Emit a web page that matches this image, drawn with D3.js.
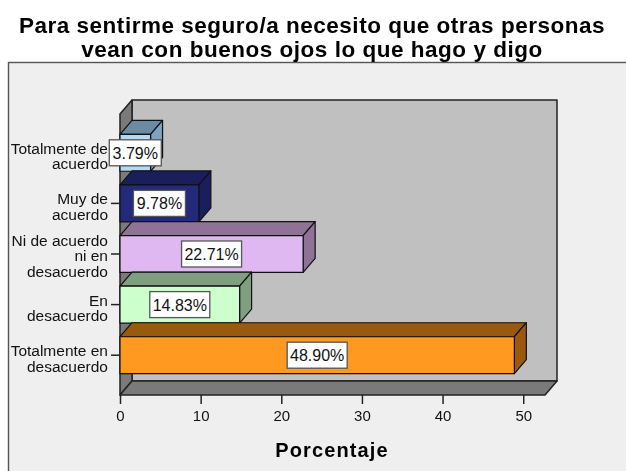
<!DOCTYPE html>
<html><head><meta charset="utf-8">
<script src="https://cdn.jsdelivr.net/npm/d3@7"></script>
<style>html,body{margin:0;padding:0;background:#fff;overflow:hidden}svg{display:block;filter:blur(0.35px)}text{font-family:"Liberation Sans",Arial,sans-serif;fill:#111}</style>
</head><body><svg id="c" width="626" height="471"></svg>
<script>
const categories = ["Totalmente de acuerdo","Muy de acuerdo","Ni de acuerdo ni en desacuerdo","En desacuerdo","Totalmente en desacuerdo"];
const categoryLines = [["Totalmente de","acuerdo"],["Muy de","acuerdo"],["Ni de acuerdo","ni en","desacuerdo"],["En","desacuerdo"],["Totalmente en","desacuerdo"]];
const values = [3.79,9.78,22.71,14.83,48.90];
const frontColors = ["#b3d9f5","#232a7c","#dfb8f2","#ccffcc","#ff991f"];
const topColors = ["#6b8aa3","#1a1f5c","#8f7296","#7f9f7f","#99590f"];
const sideColors = ["#7da3bf","#1a1f5c","#8f7296","#7f9f7f","#99590f"];
const xTicks = [0,10,20,30,40,50];
const titleLines = ["Para sentirme seguro/a necesito que otras personas","vean con buenos ojos lo que hago y digo"];
const xTitle = "Porcentaje";

const svg = d3.select("#c");
const dx = 12, dy = 14;
const x = d3.scaleLinear().domain([0,52.7]).range([120,545]);
const y = d3.scaleBand().domain(categories).range([127.5,380.5]).paddingInner(.27).paddingOuter(.135);
const L=120,R=545,T=114,B=395;
const ink="#222";

svg.append("rect").attr("x",8.5).attr("y",62.5).attr("width",640).attr("height",440).attr("fill","#efefef").attr("stroke","#555").attr("stroke-width",1.4);

svg.append("g").selectAll("text").data(titleLines).join("text")
 .attr("x",312).attr("y",(d,i)=>33+i*24).attr("text-anchor","middle")
 .attr("font-size",22.5).attr("letter-spacing",0.52).attr("font-weight","bold").style("fill","#000").text(d=>d);

const pts=a=>a.map(p=>p.join(",")).join(" ");
const walls=svg.append("g").attr("stroke",ink).attr("stroke-width",1.5).attr("stroke-linejoin","round");
walls.append("rect").attr("x",L+dx).attr("y",T-dy).attr("width",R-L).attr("height",B-T).attr("fill","#c0c0c0");
walls.append("polygon").attr("points",pts([[L,T],[L+dx,T-dy],[L+dx,B-dy],[L,B]])).attr("fill","#7a7a7a");
walls.append("polygon").attr("points",pts([[L,B],[L+dx,B-dy],[R+dx,B-dy],[R,B]])).attr("fill","#7a7a7a");

const bars=svg.append("g").selectAll("g").data(categories).join("g").attr("stroke","#111").attr("stroke-width",1.2).attr("stroke-linejoin","round");
bars.each(function(c,i){
  const g=d3.select(this), x1=x(values[i]), y0=y(c), h=y.bandwidth();
  g.append("polygon").attr("points",pts([[L,y0],[L+dx,y0-dy],[x1+dx,y0-dy],[x1,y0]])).attr("fill",topColors[i]);
  g.append("polygon").attr("points",pts([[x1,y0],[x1+dx,y0-dy],[x1+dx,y0+h-dy],[x1,y0+h]])).attr("fill",sideColors[i]);
  g.append("rect").attr("x",L).attr("y",y0).attr("width",x1-L).attr("height",h).attr("fill",frontColors[i]);
});

const xAxis=svg.append("g").attr("transform",`translate(0,${B})`)
 .call(d3.axisBottom(x).tickValues(xTicks).tickSize(9).tickPadding(6).tickFormat(d3.format("d")));
xAxis.select(".domain").remove();
xAxis.selectAll("line").attr("stroke",ink).attr("stroke-width",1.5);
xAxis.selectAll("text").attr("font-size",15).style("font-family",'"Liberation Sans",Arial,sans-serif');

const yAxis=svg.append("g").attr("transform",`translate(${L},0)`)
 .call(d3.axisLeft(y).tickSize(9).tickFormat(""));
yAxis.select(".domain").remove();
yAxis.selectAll("line").attr("stroke",ink).attr("stroke-width",1.5);
yAxis.selectAll(".tick text").each(function(c,i){
  const lines=categoryLines[i], t=d3.select(this).attr("x",-12).attr("y",0).attr("dy",null)
    .attr("text-anchor","end").attr("font-size",15.5).style("font-family",'"Liberation Sans",Arial,sans-serif').text(null);
  const first=1-(lines.length-2)*9.5;
  lines.forEach((l,k)=>t.append("tspan").attr("x",-12).attr("y",first+k*15.5).text(l));
});

const w=[52,52,60,60,60];
const labels=svg.append("g").selectAll("g").data(categories).join("g")
 .attr("transform",(c,i)=>`translate(${(x(0)+x(values[i]))/2},${y(c)+y.bandwidth()/2})`);
labels.append("rect").attr("x",(c,i)=>-w[i]/2).attr("y",-13).attr("width",(c,i)=>w[i]).attr("height",26)
 .attr("fill","#fff").attr("stroke","#555").attr("stroke-width",1.3);
labels.append("text").attr("text-anchor","middle").attr("y",6).attr("font-size",16).text((c,i)=>values[i].toFixed(2)+"%");

svg.append("text").attr("x",332).attr("y",457).attr("text-anchor","middle").attr("font-size",20).attr("letter-spacing",1.1).attr("font-weight","bold").style("fill","#000").text(xTitle);
</script></body></html>
